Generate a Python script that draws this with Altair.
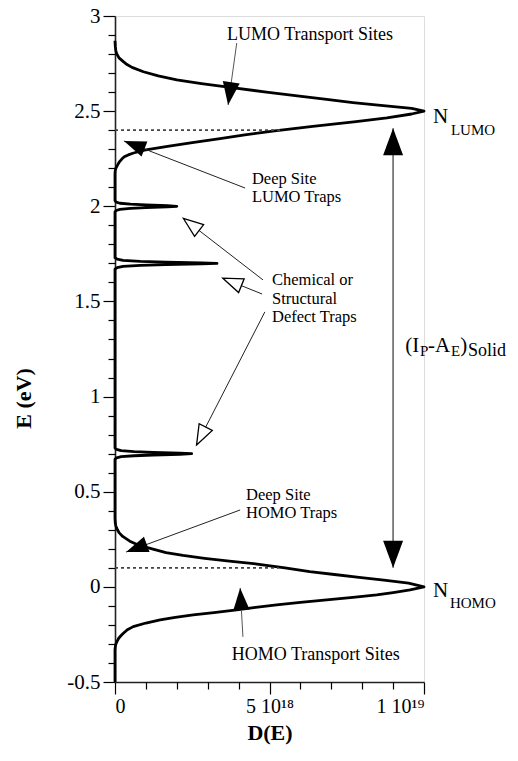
import math
import altair as alt
import pandas as pd

FONT = "Liberation Serif"
W, H = 309, 666
XMIN, XMAX = 0.0, 10.0      # D(E) in units of 1e18
YMIN, YMAX = -0.5, 3.0      # E in eV

# ---- density of states curve (E in eV, D in 1e18) ----
homo_E = [-0.5, -0.33, -0.315, -0.3, -0.285, -0.27, -0.257, -0.244, -0.225, -0.209, -0.19, -0.174, -0.16, -0.147,
          -0.135, -0.121, -0.108, -0.095, -0.082, -0.068, -0.055, -0.042, -0.03, -0.016, 0.0,
          0.02, 0.035, 0.05, 0.065, 0.08, 0.1, 0.12, 0.135, 0.15, 0.165, 0.18, 0.2, 0.22,
          0.24, 0.265, 0.285, 0.3, 0.31, 0.322, 0.335, 0.36]
homo_D = [0, 0, 0.01, 0.03, 0.07, 0.12, 0.19, 0.27, 0.4, 0.59, 1.0, 1.46, 1.95, 2.53,
          3.2, 3.94, 4.55, 5.23, 6.0, 6.85, 7.7, 8.47, 9.0, 9.55, 10.0,
          9.5, 8.7, 7.9, 7.1, 6.3, 5.5, 4.6, 3.7, 2.9, 2.2, 1.65, 1.2, 0.75,
          0.48, 0.25, 0.13, 0.08, 0.05, 0.025, 0.01, 0]

trap1_E = [0.67, 0.678, 0.684, 0.689, 0.693, 0.697, 0.70, 0.703, 0.707, 0.711, 0.716, 0.722, 0.73]
trap1_D = [0, 0.05, 0.2, 0.62, 1.24, 2.1, 2.48, 2.1, 1.24, 0.62, 0.2, 0.05, 0]

trap2_E = [1.67, 1.678, 1.684, 1.689, 1.693, 1.697, 1.70, 1.703, 1.707, 1.711, 1.716, 1.722, 1.73]
trap2_D = [0, 0.07, 0.26, 0.82, 1.65, 2.8, 3.3, 2.8, 1.65, 0.82, 0.26, 0.07, 0]

trap3_E = [1.97, 1.978, 1.984, 1.989, 1.993, 1.997, 2.0, 2.003, 2.007, 2.011, 2.016, 2.022, 2.03]
trap3_D = [0, 0.04, 0.16, 0.5, 1.0, 1.7, 2.0, 1.7, 1.0, 0.5, 0.16, 0.04, 0]

lumo_E = [2.17, 2.18, 2.19, 2.2, 2.21, 2.222, 2.235, 2.248, 2.26, 2.27, 2.28, 2.295, 2.315, 2.335, 2.355, 2.375, 2.395,
          2.42, 2.445, 2.465, 2.485, 2.5, 2.515, 2.53, 2.545, 2.562, 2.58, 2.6, 2.628,
          2.645, 2.664, 2.685, 2.707, 2.73, 2.745, 2.76, 2.78, 2.804, 2.82, 2.84, 2.87]
lumo_D = [0, 0.003, 0.01, 0.03, 0.06, 0.1, 0.15, 0.22, 0.3, 0.43, 0.6, 0.95, 1.7, 2.5, 3.4, 4.2, 5.1,
          6.4, 7.8, 8.8, 9.6, 10.0, 9.6, 8.6, 7.7, 6.85, 5.9, 4.9, 3.6,
          2.8, 2.0, 1.4, 0.92, 0.55, 0.39, 0.27, 0.13, 0.05, 0.025, 0.01, 0]

curve = pd.DataFrame({
    "E": homo_E + trap1_E + trap2_E + trap3_E + lumo_E,
    "D": homo_D + trap1_D + trap2_D + trap3_D + lumo_D,
})

# ---- dashed trap-level lines ----
dash_E = [2.4, 0.1]
dash_D = [5.4, 5.3]
dashes = pd.DataFrame({"E": dash_E, "D0": [0, 0], "D1": dash_D})

# ---- annotation arrows (tail -> tip) ----
arrow_name = ["lumo_transport", "deep_lumo", "chem1", "chem2", "chem3", "deep_homo",
              "homo_transport", "gap_up", "gap_down"]
arrow_tailD = [3.94, 4.21, 4.79, 4.76, 4.85, 4.05, 4.14, 9.0, 9.0]
arrow_tailE = [2.858, 2.096, 1.613, 1.539, 1.445, 0.404, -0.263, 0.10, 2.41]
arrow_tipD = [3.66, 0.29, 2.21, 3.49, 2.64, 0.36, 4.05, 9.0, 9.0]
arrow_tipE = [2.532, 2.343, 1.937, 1.622, 0.746, 0.183, -0.006, 2.41, 0.10]
arrow_head = [23, 22, 20, 20, 20, 22, 22, 27, 27]
arrow_open = [False, False, True, True, True, False, False, False, False]
arrow_color = ["#555555", "#222222", "#222222", "#222222", "#222222", "#222222",
               "#555555", "#777777", "#777777"]
arrow_width = [1.0, 1.0, 1.0, 1.0, 1.0, 1.0, 1.0, 1.8, 1.8]

sx = W / (XMAX - XMIN)
sy = H / (YMAX - YMIN)
angles = []
for t0, e0, t1, e1 in zip(arrow_tailD, arrow_tailE, arrow_tipD, arrow_tipE):
    dx = (t1 - t0) * sx
    dy = -(e1 - e0) * sy
    angles.append((math.degrees(math.atan2(dx, -dy)) + 360.0) % 360.0)

arrows = pd.DataFrame({
    "name": arrow_name, "x1": arrow_tailD, "y1": arrow_tailE,
    "x2": arrow_tipD, "y2": arrow_tipE, "ang": angles,
    "size": [(2 * h) ** 2 for h in arrow_head],
    "open": arrow_open, "col": arrow_color, "w": arrow_width,
})
lines_df = arrows[arrows["name"] != "gap_down"]

HEAD = "M0,0L-0.37,1L0.37,1Z"

# ---- text annotations ----
ctext = pd.DataFrame({
    "t": ["LUMO Transport Sites", "HOMO Transport Sites"],
    "D": [6.31, 6.5], "E": [2.874, -0.384]})
ltext = pd.DataFrame({
    "t": ["Deep Site", "LUMO Traps", "Chemical or", "Structural", "Defect Traps",
          "Deep Site", "HOMO Traps"],
    "D": [4.43, 4.43, 5.08, 5.08, 5.08, 4.24, 4.24],
    "E": [2.117, 2.020, 1.586, 1.489, 1.392, 0.459, 0.362]})
bigtext = pd.DataFrame({
    "t": ["N", "N", "(I", "-A", ")"],
    "D": [10.29, 10.29, 9.39, 10.13, 11.17],
    "E": [2.438, -0.053, 1.234, 1.234, 1.234]})
subtext = pd.DataFrame({
    "t": ["LUMO", "HOMO", "P", "E", "Solid"],
    "D": [10.87, 10.84, 9.87, 10.87, 11.42],
    "E": [2.375, -0.111, 1.213, 1.213, 1.213],
    "fs": [15, 15, 15, 15, 18]})

xs = alt.Scale(domain=[XMIN, XMAX], nice=False, zero=False)
ys = alt.Scale(domain=[YMIN, YMAX], nice=False, zero=False)

y_major = [-0.5, 0, 0.5, 1, 1.5, 2, 2.5, 3]
y_minor = [-0.4, -0.3, -0.2, -0.1, 0.1, 0.2, 0.3, 0.4, 0.6, 0.7, 0.8, 0.9, 1.1, 1.2, 1.3,
           1.4, 1.6, 1.7, 1.8, 1.9, 2.1, 2.2, 2.3, 2.4, 2.6, 2.7, 2.8, 2.9]
x_major = [0, 5, 10]
x_minor = [1, 2, 3, 4, 6, 7, 8, 9]

x_axis = alt.Axis(values=x_major, tickSize=12, tickWidth=1.2, tickColor="black",
                  labelExpr="datum.value == 0 ? '0' : (datum.value == 5 ? '5 10\u00b9\u2078' : '1 10\u00b9\u2079')",
                  labelFont=FONT, labelFontSize=20, labelColor="black", labelPadding=2,
                  domainColor="#222222", domainWidth=1.6, grid=False,
                  title="D(E)", titleFont=FONT, titleFontSize=22, titleFontWeight="bold",
                  titleColor="black", titlePadding=6)
y_axis = alt.Axis(values=y_major, tickSize=12, tickWidth=1.2, tickColor="black",
                  labelExpr="'' + datum.value", labelFont=FONT, labelFontSize=21,
                  labelColor="black", labelPadding=3,
                  domainColor="#222222", domainWidth=1.6, grid=False,
                  title="E (eV)", titleFont=FONT, titleFontSize=22, titleFontWeight="bold",
                  titleColor="black", titleAngle=270, titleX=-92, titleY=382,
                  titleAlign="center", titleBaseline="middle")

main = alt.Chart(curve).mark_line(color="black", strokeWidth=2.8, interpolate="linear",
                                  strokeJoin="round").encode(
    x=alt.X("D:Q", scale=xs, axis=x_axis),
    y=alt.Y("E:Q", scale=ys, axis=y_axis),
    order=alt.Order("E:Q"),
)

minor = alt.Chart(dashes).mark_point(opacity=0).encode(
    x=alt.X("D1:Q", scale=xs, axis=alt.Axis(values=x_minor, tickSize=7, tickWidth=1.2,
                                           tickColor="black", labels=False, domain=False,
                                           grid=False, title=None, orient="bottom")),
    y=alt.Y("E:Q", scale=ys, axis=alt.Axis(values=y_minor, tickSize=7, tickWidth=1.2,
                                          tickColor="black", labels=False, domain=False,
                                          grid=False, title=None, orient="left")),
)

dash_layer = alt.Chart(dashes).mark_rule(color="#444444", strokeWidth=1.6, strokeDash=[3, 3]).encode(
    x=alt.X("D0:Q", scale=xs, axis=None), x2="D1:Q",
    y=alt.Y("E:Q", scale=ys, axis=None),
)

arrow_lines = alt.Chart(lines_df).mark_rule().encode(
    x=alt.X("x1:Q", scale=xs, axis=None), x2="x2:Q",
    y=alt.Y("y1:Q", scale=ys, axis=None), y2="y2:Q",
    color=alt.Color("col:N", scale=None),
    strokeWidth=alt.StrokeWidth("w:Q", scale=None),
)

heads_filled = alt.Chart(arrows[~arrows["open"]]).mark_point(
    shape=HEAD, filled=True, color="black", opacity=1, strokeWidth=0).encode(
    x=alt.X("x2:Q", scale=xs, axis=None),
    y=alt.Y("y2:Q", scale=ys, axis=None),
    angle=alt.Angle("ang:Q", scale=None),
    size=alt.Size("size:Q", scale=None),
)

heads_open = alt.Chart(arrows[arrows["open"]]).mark_point(
    shape=HEAD, filled=True, fill="white", stroke="black", strokeWidth=1.3, opacity=1).encode(
    x=alt.X("x2:Q", scale=xs, axis=None),
    y=alt.Y("y2:Q", scale=ys, axis=None),
    angle=alt.Angle("ang:Q", scale=None),
    size=alt.Size("size:Q", scale=None),
)

t_center = alt.Chart(ctext).mark_text(font=FONT, fontSize=18, align="center",
                                      baseline="alphabetic", color="black").encode(
    x=alt.X("D:Q", scale=xs, axis=None), y=alt.Y("E:Q", scale=ys, axis=None), text="t:N")
t_left = alt.Chart(ltext).mark_text(font=FONT, fontSize=16.5, align="left",
                                    baseline="alphabetic", color="black").encode(
    x=alt.X("D:Q", scale=xs, axis=None), y=alt.Y("E:Q", scale=ys, axis=None), text="t:N")
t_big = alt.Chart(bigtext).mark_text(font=FONT, fontSize=21, align="left",
                                     baseline="alphabetic", color="black").encode(
    x=alt.X("D:Q", scale=xs, axis=None), y=alt.Y("E:Q", scale=ys, axis=None), text="t:N")
t_sub = alt.Chart(subtext).mark_text(font=FONT, align="left",
                                     baseline="alphabetic", color="black").encode(
    x=alt.X("D:Q", scale=xs, axis=None), y=alt.Y("E:Q", scale=ys, axis=None), text="t:N",
    size=alt.Size("fs:Q", scale=None))

chart = alt.layer(
    main, minor, dash_layer, arrow_lines, heads_filled, heads_open,
    t_center, t_left, t_big, t_sub,
).resolve_axis(x="independent", y="independent").properties(
    width=W, height=H,
    autosize=alt.AutoSizeParams(type="none"),
    padding={"left": 115, "top": 16, "right": 94, "bottom": 79},
).configure_view(stroke=None).configure(font=FONT)

chart.save("out.html", embed_options={"renderer": "svg", "actions": False})
